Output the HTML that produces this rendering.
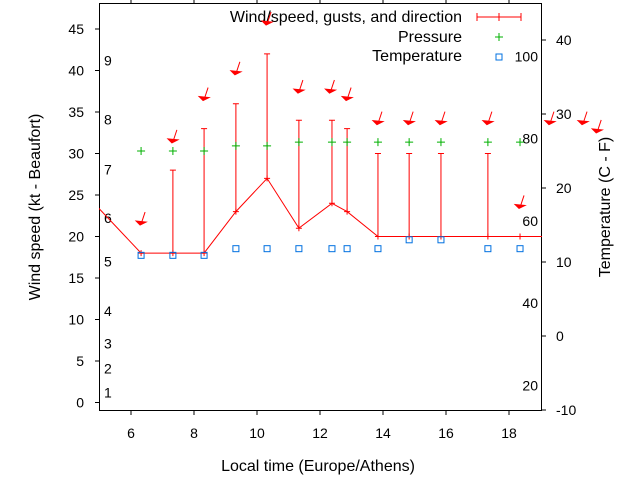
<!DOCTYPE html>
<html><head><meta charset="utf-8"><style>
body{margin:0;background:#fff}
svg{display:block;font-family:"Liberation Sans",sans-serif;font-size:14px}
.big{font-size:16px}
</style></head><body>
<svg id="chart" width="640" height="480" viewBox="0 0 640 480" xmlns="http://www.w3.org/2000/svg">
<defs><clipPath id="pc"><rect x="99" y="3" width="443" height="408"/></clipPath></defs>
<g id="axes"></g>
<g id="marks"></g>
</svg>
<script>
const hours=[6.32,7.33,8.32,9.33,10.32,11.33,12.38,12.86,13.84,14.83,15.84,17.33,18.35];
const windSpeed=[18,18,18,23,27,21,24,23,20,20,20,20,20];
const gusts=[null,28,33,36,42,34,34,33,30,30,30,30,null];
const pressure=[25.0,25.0,25.0,25.7,25.7,26.2,26.2,26.2,26.2,26.2,26.2,26.2,26.2];
const tempHours=[6.32,7.33,8.32,9.33,10.32,11.33,12.38,12.86,13.84,14.83,15.84,17.33,18.35];
const temperature=[10.9,10.9,10.9,11.8,11.8,11.8,11.8,11.8,11.8,13.0,13.0,11.8,11.8];
const arrowHours=[6.32,7.33,8.32,9.33,10.32,11.33,12.33,12.86,13.84,14.83,15.84,17.33,18.35,19.3,20.35,20.8];
const arrowKt=[21.5,31.4,36.5,39.6,45.6,37.4,37.4,36.5,33.6,33.6,33.6,33.6,23.5,33.6,33.6,32.6];
const xTicks=[6,8,10,12,14,16,18];
const yTicks=[0,5,10,15,20,25,30,35,40,45];
const y2Ticks=[-10,0,10,20,30,40];
const beaufort=[[1,1.2],[2,4.1],[3,7.1],[4,11],[5,17],[6,22.2],[7,28.1],[8,34.1],[9,41.2]];
const fahrenheit=[20,40,60,80,100];
const X=h=>99.5+(h-5)*31.5;
const Y=k=>402.5-k*8.3;
const T=t=>410-(t+10)*7.4;
const NS="http://www.w3.org/2000/svg";
function mk(tag,attrs,parent,txt){const e=document.createElementNS(NS,tag);for(const k in attrs)e.setAttribute(k,attrs[k]);if(txt!==undefined)e.textContent=txt;parent.appendChild(e);return e;}
const ax=document.getElementById('axes'),mg=document.getElementById('marks');
let e;
e=mk('rect',{x:99.5,y:3.5,width:442,height:407,fill:'none',stroke:'#000'},ax);


xTicks.forEach(v=>{
  e=mk('line',{x1:X(v),x2:X(v),y1:410.5,y2:415,stroke:'#000'},ax);
  
  
  e=mk('line',{x1:X(v),x2:X(v),y1:3.5,y2:0,stroke:'#000'},ax);
  
  
  e=mk('text',{x:X(v),y:438,'text-anchor':'middle'},ax,String(v));
  
  
});
yTicks.forEach(v=>{
  e=mk('line',{x1:95,x2:99.5,y1:Y(v),y2:Y(v),stroke:'#000'},ax);
  
  
  e=mk('text',{x:84,y:Y(v)+5,'text-anchor':'end'},ax,String(v));
  
  
});
y2Ticks.forEach(v=>{
  e=mk('line',{x1:541.5,x2:546,y1:T(v),y2:T(v),stroke:'#000'},ax);
  
  
  e=mk('text',{x:556,y:T(v)+5},ax,String(v));
  
  
});
beaufort.forEach(([n,k])=>{
  e=mk('text',{x:104,y:Y(k)+5},ax,String(n));
  
  
});
fahrenheit.forEach(f=>{
  const c=(f-32)*5/9;
  e=mk('text',{x:538,y:T(c)+5,'text-anchor':'end'},ax,String(f));
  
  
});
e=mk('text',{x:318,y:471,'text-anchor':'middle','class':'big'},ax,'Local time (Europe/Athens)');


e=mk('text',{x:0,y:0,'text-anchor':'middle','class':'big',transform:'translate(40,207) rotate(-90)'},ax,'Wind speed (kt - Beaufort)');


e=mk('text',{x:0,y:0,'text-anchor':'middle','class':'big',transform:'translate(610,207) rotate(-90)'},ax,'Temperature (C - F)');


// legend
e=mk('text',{x:462,y:22,'text-anchor':'end','class':'big'},ax,'Wind/speed, gusts, and direction');


e=mk('path',{d:'M477,17H521M477,13V21M521,13V21M499,13V21',stroke:'#f00',fill:'none'},ax);


e=mk('text',{x:462,y:42,'text-anchor':'end','class':'big'},ax,'Pressure');


e=mk('path',{d:'M495,37H503M499,33V41',stroke:'#00b000',fill:'none'},ax);


e=mk('text',{x:462,y:61,'text-anchor':'end','class':'big'},ax,'Temperature');


e=mk('rect',{x:496,y:54,width:6,height:6,stroke:'#0070e0',fill:'none'},ax);


// clipped series
const cg=mk('g',{'clip-path':'url(#pc)'},mg);
let d='M'+X(4.33)+','+Y(26);
hours.forEach((h,i)=>{d+='L'+X(h)+','+Y(windSpeed[i]);});
d+='L'+X(19.5)+','+Y(20);
e=mk('path',{d:d,stroke:'#f00',fill:'none'},cg);


hours.forEach((h,i)=>{
  const x=X(h),y=Y(windSpeed[i]);
  e=mk('path',{d:`M${x-3},${y}H${x+3}M${x},${y-3}V${y+3}`,stroke:'#f00'},cg);
  
  
  if(gusts[i]!==null){
    const g=Y(gusts[i]);
    e=mk('path',{d:`M${x},${y}V${g}M${x-3},${g}H${x+3}`,stroke:'#f00',fill:'none'},cg);
    
    
  }
  e=mk('path',{d:`M${x-4},${T(pressure[i])}h8M${x},${T(pressure[i])-4}v8`,stroke:'#00b000'},cg);
  
  
});
tempHours.forEach((h,i)=>{
  e=mk('rect',{x:X(h)-3,y:T(temperature[i])-3,width:6,height:6,stroke:'#0070e0',fill:'none'},cg);
  
  
});
arrowHours.forEach((h,i)=>{
  const x=X(h),y=Y(arrowKt[i]);
  e=mk('path',{d:`M${x+4},${y-12}L${x},${y}`,stroke:'#f00',fill:'none'},mg);
  
  
  e=mk('path',{d:`M${x-1},${y+1}L${x-5},${y-3}L${x+5},${y-2}Z`,fill:'#f00',stroke:'#f00'},mg);
  
  
});
</script>
</body></html>
